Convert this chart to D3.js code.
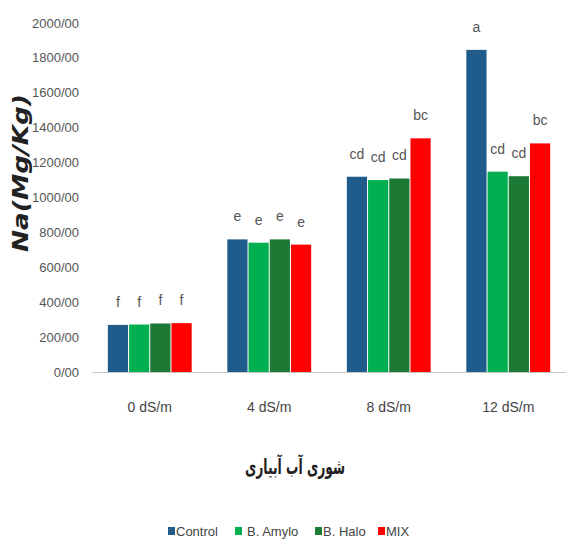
<!DOCTYPE html>
<html><head><meta charset="utf-8">
<script src="https://cdn.jsdelivr.net/npm/d3@7"></script>
<style>
body{margin:0;background:#fff;}
text{font-family:"Liberation Sans",Arial,sans-serif;}
</style></head>
<body><svg id="c" width="566" height="542"></svg>
<script>
const categories = ["0 dS/m","4 dS/m","8 dS/m","12 dS/m"];
const seriesNames = ["Control","B. Amylo","B. Halo","MIX"];
const seriesColors = ["#1f5c8c","#00b050","#1d7a35","#ff0000"];
const controlVals = [270, 760, 1119, 1846];
const amyloVals = [272, 741, 1100, 1148];
const haloVals = [278, 760, 1109, 1122];
const mixVals = [280, 730, 1339, 1310];
const controlLetters = ["f","e","cd","a"];
const amyloLetters = ["f","e","cd","cd"];
const haloLetters = ["f","e","cd","cd"];
const mixLetters = ["f","e","bc","bc"];
const yTicks = [0,200,400,600,800,1000,1200,1400,1600,1800,2000];

const values = [controlVals, amyloVals, haloVals, mixVals];
const letters = [controlLetters, amyloLetters, haloLetters, mixLetters];

const svg = d3.select("#c");
const x0 = d3.scaleBand().domain(categories).range([90, 568]).paddingInner(0.29).paddingOuter(0.145);
const x1 = d3.scaleBand().domain(seriesNames).range([0, x0.bandwidth()]).padding(0);
const y = d3.scaleLinear().domain([0, 2000]).range([372, 23]);

// axis line
svg.append("line").attr("x1", 92).attr("x2", 566).attr("y1", y(0)+0.5).attr("y2", y(0)+0.5)
  .attr("stroke", "#c8c8c8").attr("stroke-width", 1);

// y tick labels
svg.append("g").selectAll("text").data(yTicks).join("text")
  .attr("x", 79).attr("y", d => y(d)).attr("dy", "0.35em")
  .attr("text-anchor", "end").attr("font-size", 13).attr("fill", "#555")
  .text(d => d + "/00");

// bars
const g = svg.append("g");
categories.forEach((cat, ci) => {
  seriesNames.forEach((s, si) => {
    const v = values[si][ci];
    const bx = x0(cat) + x1(s);
    g.append("rect").attr("x", bx + 0.5).attr("width", x1.bandwidth() - 1)
      .attr("y", y(v)).attr("height", y(0) - y(v)).attr("fill", seriesColors[si]);
    g.append("text").attr("x", bx + x1.bandwidth()/2).attr("y", y(v) - 18)
      .attr("text-anchor", "middle").attr("font-size", 14).attr("fill", "#555")
      .text(letters[si][ci]);
  });
});

// x tick labels
svg.append("g").selectAll("text").data(categories).join("text")
  .attr("x", d => x0(d) + x0.bandwidth()/2).attr("y", 412)
  .attr("text-anchor", "middle").attr("font-size", 14).attr("fill", "#444")
  .text(d => d);

// axis titles
svg.append("text").attr("x", 295).attr("y", 474).attr("text-anchor", "middle")
  .attr("font-size", 21).attr("font-weight", "bold").attr("fill", "#222")
  .attr("textLength", 100).attr("lengthAdjust", "spacingAndGlyphs")
  .style("font-family", "'DejaVu Sans','Noto Sans',sans-serif")
  .text("شوری آب آبیاری");
svg.append("text").attr("transform", "translate(28,173) rotate(-90)")
  .attr("text-anchor", "middle").attr("font-size", 21).attr("font-weight", "bold")
  .attr("font-style", "italic").attr("fill", "#222")
  .attr("textLength", 158).attr("lengthAdjust", "spacingAndGlyphs")
  .style("font-family", "'DejaVu Sans','Liberation Sans',Arial,sans-serif")
  .text("Na(Mg/Kg)");

// legend
const legendX = [168, 235, 315, 378];
const lg = svg.append("g");
seriesNames.forEach((s, i) => {
  lg.append("rect").attr("x", legendX[i]).attr("y", 527).attr("width", 7).attr("height", 8).attr("fill", seriesColors[i]);
  lg.append("text").attr("x", legendX[i] + (i===1 ? 12 : 8)).attr("y", 531).attr("dy", "0.35em")
    .attr("font-size", 13).attr("fill", "#444").text(s);
});
</script></body></html>
